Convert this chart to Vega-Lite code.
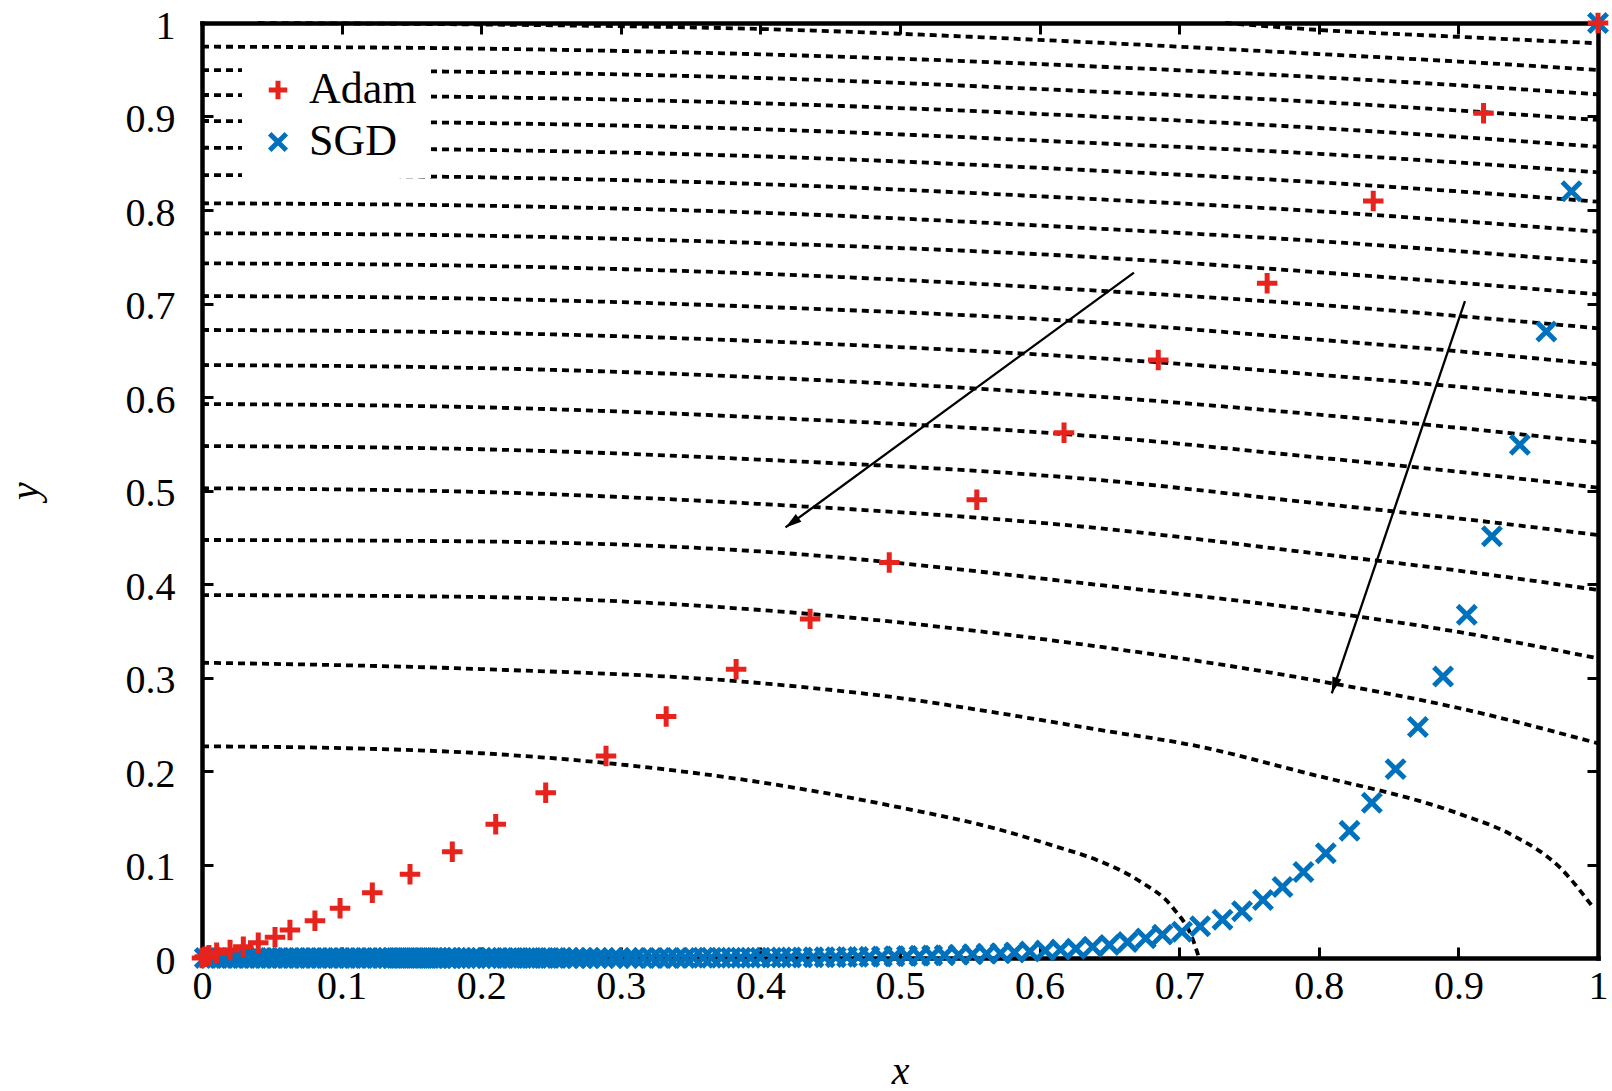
{
"$schema": "https://vega.github.io/schema/vega-lite/v6.json",
"width": 1396, "height": 935,
"autosize": {"type": "none"},
"padding": {"left": 202, "top": 23, "right": 14, "bottom": 133},
"background": "white",
"config": {
 "view": {"stroke": null},
 "axis": {"grid": false, "domainColor": "black", "domainWidth": 4.5, "domainCap": "square", "tickColor": "black", "tickWidth": 3, "tickSize": -11, "zindex": 1,
  "labelFont": "Liberation Serif", "labelFontSize": 40, "labelColor": "black", "labelFlush": false, "labelOverlap": false, "labelBound": false,
  "titleFont": "Liberation Serif", "titleFontSize": 40, "titleFontStyle": "italic", "titleFontWeight": "normal", "titleColor": "black"}
},
"datasets": {
 "curves": [
  {"c":"T0","x":0.04,"y":1.0},{"c":"T0","x":0.2,"y":0.9984},{"c":"T0","x":0.4,"y":0.9936},{"c":"T0","x":0.643,"y":0.9789},{"c":"T0","x":0.8,"y":0.9668},{"c":"T0","x":0.9,"y":0.9588},{"c":"T0","x":1,"y":0.9497},
  {"c":"T1","x":0.733,"y":1.0},{"c":"T1","x":0.801,"y":0.9925},{"c":"T1","x":0.899,"y":0.9853},{"c":"T1","x":1,"y":0.9783},
  {"c":"L1","x":0,"y":0.9747},{"c":"L1","x":0.2,"y":0.9726},{"c":"L1","x":0.4,"y":0.9665},{"c":"L1","x":0.643,"y":0.9533},{"c":"L1","x":0.8,"y":0.942},{"c":"L1","x":0.9,"y":0.9334},{"c":"L1","x":1,"y":0.9237},
  {"c":"L2","x":0,"y":0.9497},{"c":"L2","x":0.2,"y":0.9476},{"c":"L2","x":0.4,"y":0.9412},{"c":"L2","x":0.643,"y":0.9265},{"c":"L2","x":0.8,"y":0.9155},{"c":"L2","x":0.9,"y":0.9064},{"c":"L2","x":1,"y":0.8963},
  {"c":"L3","x":0,"y":0.923},{"c":"L3","x":0.2,"y":0.9207},{"c":"L3","x":0.4,"y":0.9141},{"c":"L3","x":0.643,"y":0.8998},{"c":"L3","x":0.8,"y":0.8877},{"c":"L3","x":0.9,"y":0.8782},{"c":"L3","x":1,"y":0.8677},
  {"c":"L4","x":0,"y":0.8952},{"c":"L4","x":0.2,"y":0.893},{"c":"L4","x":0.4,"y":0.8864},{"c":"L4","x":0.643,"y":0.8713},{"c":"L4","x":0.8,"y":0.8601},{"c":"L4","x":0.9,"y":0.8508},{"c":"L4","x":1,"y":0.8403},
  {"c":"L5","x":0,"y":0.8666},{"c":"L5","x":0.2,"y":0.8643},{"c":"L5","x":0.4,"y":0.8574},{"c":"L5","x":0.643,"y":0.842},{"c":"L5","x":0.8,"y":0.8296},{"c":"L5","x":0.9,"y":0.8199},{"c":"L5","x":1,"y":0.8089},
  {"c":"L6","x":0,"y":0.8374},{"c":"L6","x":0.2,"y":0.835},{"c":"L6","x":0.4,"y":0.8277},{"c":"L6","x":0.643,"y":0.8114},{"c":"L6","x":0.8,"y":0.7986},{"c":"L6","x":0.9,"y":0.7883},{"c":"L6","x":1,"y":0.7768},
  {"c":"L7","x":0,"y":0.8072},{"c":"L7","x":0.2,"y":0.8046},{"c":"L7","x":0.4,"y":0.7971},{"c":"L7","x":0.643,"y":0.78},{"c":"L7","x":0.8,"y":0.7667},{"c":"L7","x":0.9,"y":0.756},{"c":"L7","x":1,"y":0.7441},
  {"c":"L8","x":0,"y":0.7751},{"c":"L8","x":0.2,"y":0.7725},{"c":"L8","x":0.4,"y":0.7646},{"c":"L8","x":0.643,"y":0.7492},{"c":"L8","x":0.8,"y":0.7334},{"c":"L8","x":0.9,"y":0.7222},{"c":"L8","x":1,"y":0.7098},
  {"c":"L9","x":0,"y":0.743},{"c":"L9","x":0.2,"y":0.7402},{"c":"L9","x":0.4,"y":0.7319},{"c":"L9","x":0.643,"y":0.7136},{"c":"L9","x":0.8,"y":0.6985},{"c":"L9","x":0.9,"y":0.6866},{"c":"L9","x":1,"y":0.6735},
  {"c":"L10","x":0,"y":0.708},{"c":"L10","x":0.2,"y":0.7051},{"c":"L10","x":0.4,"y":0.6964},{"c":"L10","x":0.643,"y":0.6795},{"c":"L10","x":0.8,"y":0.6613},{"c":"L10","x":0.9,"y":0.6489},{"c":"L10","x":1,"y":0.635},
  {"c":"L11","x":0,"y":0.6717},{"c":"L11","x":0.2,"y":0.6687},{"c":"L11","x":0.4,"y":0.6597},{"c":"L11","x":0.643,"y":0.6414},{"c":"L11","x":0.8,"y":0.6237},{"c":"L11","x":0.9,"y":0.611},{"c":"L11","x":1,"y":0.5968},
  {"c":"L12","x":0,"y":0.6342},{"c":"L12","x":0.2,"y":0.6309},{"c":"L12","x":0.4,"y":0.621},{"c":"L12","x":0.643,"y":0.6003},{"c":"L12","x":0.8,"y":0.5811},{"c":"L12","x":0.9,"y":0.567},{"c":"L12","x":1,"y":0.5511},
  {"c":"L13","x":0,"y":0.5925},{"c":"L13","x":0.2,"y":0.589},{"c":"L13","x":0.4,"y":0.5782},{"c":"L13","x":0.643,"y":0.5575},{"c":"L13","x":0.8,"y":0.5352},{"c":"L13","x":0.9,"y":0.52},{"c":"L13","x":1,"y":0.503},
  {"c":"L14","x":0,"y":0.5476},{"c":"L14","x":0.2,"y":0.5441},{"c":"L14","x":0.4,"y":0.533},{"c":"L14","x":0.643,"y":0.5112},{"c":"L14","x":0.8,"y":0.4861},{"c":"L14","x":0.9,"y":0.4701},{"c":"L14","x":1,"y":0.4524},
  {"c":"L15","x":0,"y":0.5024},{"c":"L15","x":0.2,"y":0.4984},{"c":"L15","x":0.4,"y":0.4856},{"c":"L15","x":0.643,"y":0.4596},{"c":"L15","x":0.8,"y":0.4323},{"c":"L15","x":0.9,"y":0.4143},{"c":"L15","x":1,"y":0.3936},
  {"c":"L16","x":0,"y":0.4471},{"c":"L16","x":0.2,"y":0.4455},{"c":"L16","x":0.4,"y":0.4348},{"c":"L16","x":0.643,"y":0.3989},{"c":"L16","x":0.8,"y":0.3711},{"c":"L16","x":0.9,"y":0.3487},{"c":"L16","x":1,"y":0.3205},
  {"c":"L17","x":0,"y":0.3882},{"c":"L17","x":0.2,"y":0.3861},{"c":"L17","x":0.4,"y":0.3722},{"c":"L17","x":0.643,"y":0.3329},{"c":"L17","x":0.8,"y":0.2963},{"c":"L17","x":0.9,"y":0.2674},{"c":"L17","x":1,"y":0.2296},
  {"c":"L18","x":0,"y":0.3158},{"c":"L18","x":0.2,"y":0.309},{"c":"L18","x":0.4,"y":0.294},{"c":"L18","x":0.5,"y":0.278},{"c":"L18","x":0.5716,"y":0.2617},{"c":"L18","x":0.643,"y":0.2439},{"c":"L18","x":0.715,"y":0.226},{"c":"L18","x":0.787,"y":0.1993},{"c":"L18","x":0.901,"y":0.154},{"c":"L18","x":0.937,"y":0.1326},{"c":"L18","x":0.973,"y":0.0963},{"c":"L18","x":0.997,"y":0.0531},
  {"c":"L19","x":0,"y":0.2264},{"c":"L19","x":0.1,"y":0.2245},{"c":"L19","x":0.2,"y":0.219},{"c":"L19","x":0.3,"y":0.207},{"c":"L19","x":0.4,"y":0.188},{"c":"L19","x":0.5,"y":0.161},{"c":"L19","x":0.5716,"y":0.1372},{"c":"L19","x":0.6074,"y":0.1212},{"c":"L19","x":0.6433,"y":0.1034},{"c":"L19","x":0.6719,"y":0.082},{"c":"L19","x":0.6956,"y":0.0535},{"c":"L19","x":0.7099,"y":0.0193},{"c":"L19","x":0.7142,"y":0}
 ],
 "arrows": [
  {"a":"A","pt":"tail","x":0.6676,"y":0.733},{"a":"A","pt":"tip","x":0.418,"y":0.4605},
  {"a":"B","pt":"tail","x":0.9047,"y":0.7025},{"a":"B","pt":"tip","x":0.8093,"y":0.2831}
 ],
 "pts": [
  {"m":"SGD","x":1,"y":1},{"m":"SGD","x":0.981,"y":0.82},{"m":"SGD","x":0.963,"y":0.67},{"m":"SGD","x":0.944,"y":0.549},{"m":"SGD","x":0.924,"y":0.451},{"m":"SGD","x":0.906,"y":0.367},{"m":"SGD","x":0.889,"y":0.301},{"m":"SGD","x":0.871,"y":0.247},{"m":"SGD","x":0.855,"y":0.202},{"m":"SGD","x":0.838,"y":0.166},{"m":"SGD","x":0.822,"y":0.136},{"m":"SGD","x":0.805,"y":0.112},{"m":"SGD","x":0.789,"y":0.092},{"m":"SGD","x":0.774,"y":0.076},{"m":"SGD","x":0.76,"y":0.062},{"m":"SGD","x":0.745,"y":0.05},{"m":"SGD","x":0.731,"y":0.041},{"m":"SGD","x":0.715,"y":0.034},{"m":"SGD","x":0.702,"y":0.028},{"m":"SGD","x":0.688,"y":0.025},{"m":"SGD","x":0.676,"y":0.021},{"m":"SGD","x":0.663,"y":0.017},{"m":"SGD","x":0.65,"y":0.014},{"m":"SGD","x":0.638,"y":0.012},{"m":"SGD","x":0.626,"y":0.01},{"m":"SGD","x":0.615,"y":0.009},{"m":"SGD","x":0.604,"y":0.008},{"m":"SGD","x":0.593,"y":0.007},{"m":"SGD","x":0.582,"y":0.006},{"m":"SGD","x":0.572,"y":0.005},{"m":"SGD","x":0.562,"y":0.0045},{"m":"SGD","x":0.552,"y":0.004},{"m":"SGD","x":0.542,"y":0.0035},{"m":"SGD","x":0.532,"y":0.003},{"m":"SGD","x":0.523,"y":0.0027},{"m":"SGD","x":0.514,"y":0.0024},{"m":"SGD","x":0.505,"y":0.0021},{"m":"SGD","x":0.496,"y":0.0018},{"m":"SGD","x":0.487,"y":0.0016},{"m":"SGD","x":0.478,"y":0.0014},{"m":"SGD","x":0.47,"y":0.0012},{"m":"SGD","x":0.462,"y":0.001},{"m":"SGD","x":0.454,"y":0.0009},{"m":"SGD","x":0.446,"y":0.0008},{"m":"SGD","x":0.438,"y":0.0007},{"m":"SGD","x":0.43,"y":0.0006},{"m":"SGD","x":0.422,"y":0.0005},{"m":"SGD","x":0.415,"y":0.0005},{"m":"SGD","x":0.408,"y":0.0004},{"m":"SGD","x":0.4,"y":0.0004},
  {"m":"SGD","x":0.393,"y":0.0003},{"m":"SGD","x":0.386,"y":0.0003},{"m":"SGD","x":0.379,"y":0.0003},{"m":"SGD","x":0.372,"y":0.0002},{"m":"SGD","x":0.365,"y":0.0002},{"m":"SGD","x":0.359,"y":0.0002},{"m":"SGD","x":0.352,"y":0.0002},{"m":"SGD","x":0.346,"y":0.0001},{"m":"SGD","x":0.34,"y":0.0001},{"m":"SGD","x":0.334,"y":0.0001},{"m":"SGD","x":0.328,"y":0.0001},{"m":"SGD","x":0.322,"y":0.0001},{"m":"SGD","x":0.316,"y":0},{"m":"SGD","x":0.31,"y":0},{"m":"SGD","x":0.305,"y":0},{"m":"SGD","x":0.299,"y":0},{"m":"SGD","x":0.294,"y":0},{"m":"SGD","x":0.288,"y":0},{"m":"SGD","x":0.283,"y":0},{"m":"SGD","x":0.278,"y":0},{"m":"SGD","x":0.273,"y":0},{"m":"SGD","x":0.268,"y":0},{"m":"SGD","x":0.263,"y":0},{"m":"SGD","x":0.258,"y":0},{"m":"SGD","x":0.254,"y":0},{"m":"SGD","x":0.249,"y":0},{"m":"SGD","x":0.245,"y":0},{"m":"SGD","x":0.24,"y":0},{"m":"SGD","x":0.236,"y":0},{"m":"SGD","x":0.232,"y":0},{"m":"SGD","x":0.227,"y":0},{"m":"SGD","x":0.223,"y":0},{"m":"SGD","x":0.219,"y":0},{"m":"SGD","x":0.215,"y":0},{"m":"SGD","x":0.211,"y":0},{"m":"SGD","x":0.207,"y":0},{"m":"SGD","x":0.204,"y":0},{"m":"SGD","x":0.2,"y":0},{"m":"SGD","x":0.196,"y":0},{"m":"SGD","x":0.193,"y":0},{"m":"SGD","x":0.189,"y":0},{"m":"SGD","x":0.186,"y":0},{"m":"SGD","x":0.182,"y":0},{"m":"SGD","x":0.179,"y":0},{"m":"SGD","x":0.176,"y":0},{"m":"SGD","x":0.172,"y":0},{"m":"SGD","x":0.169,"y":0},{"m":"SGD","x":0.166,"y":0},{"m":"SGD","x":0.163,"y":0},{"m":"SGD","x":0.16,"y":0},{"m":"SGD","x":0.157,"y":0},{"m":"SGD","x":0.154,"y":0},{"m":"SGD","x":0.151,"y":0},{"m":"SGD","x":0.148,"y":0},{"m":"SGD","x":0.145,"y":0},{"m":"SGD","x":0.142,"y":0},{"m":"SGD","x":0.139,"y":0},{"m":"SGD","x":0.136,"y":0},{"m":"SGD","x":0.133,"y":0},{"m":"SGD","x":0.13,"y":0},{"m":"SGD","x":0.126,"y":0},{"m":"SGD","x":0.122,"y":0},{"m":"SGD","x":0.118,"y":0},{"m":"SGD","x":0.114,"y":0},{"m":"SGD","x":0.11,"y":0},{"m":"SGD","x":0.106,"y":0},{"m":"SGD","x":0.102,"y":0},{"m":"SGD","x":0.098,"y":0},{"m":"SGD","x":0.094,"y":0},{"m":"SGD","x":0.09,"y":0},{"m":"SGD","x":0.086,"y":0},{"m":"SGD","x":0.082,"y":0},{"m":"SGD","x":0.078,"y":0},{"m":"SGD","x":0.074,"y":0},{"m":"SGD","x":0.07,"y":0},{"m":"SGD","x":0.066,"y":0},{"m":"SGD","x":0.062,"y":0},{"m":"SGD","x":0.058,"y":0},{"m":"SGD","x":0.054,"y":0},{"m":"SGD","x":0.05,"y":0},{"m":"SGD","x":0.046,"y":0},{"m":"SGD","x":0.042,"y":0},{"m":"SGD","x":0.038,"y":0},{"m":"SGD","x":0.034,"y":0},{"m":"SGD","x":0.03,"y":0},{"m":"SGD","x":0.026,"y":0},{"m":"SGD","x":0.022,"y":0},{"m":"SGD","x":0.018,"y":0},{"m":"SGD","x":0.014,"y":0},{"m":"SGD","x":0.01,"y":0},{"m":"SGD","x":0.006,"y":0},{"m":"SGD","x":0.002,"y":0},
  {"m":"Adam","x":0,"y":0},{"m":"Adam","x":0.002,"y":0.0014},{"m":"Adam","x":0.005,"y":0.003},{"m":"Adam","x":0.0105,"y":0.0056},{"m":"Adam","x":0.0201,"y":0.0086},{"m":"Adam","x":0.0296,"y":0.0121},{"m":"Adam","x":0.0403,"y":0.0164},{"m":"Adam","x":0.0523,"y":0.0221},{"m":"Adam","x":0.063,"y":0.0299},{"m":"Adam","x":0.0809,"y":0.0399},{"m":"Adam","x":0.0989,"y":0.0531},{"m":"Adam","x":0.122,"y":0.0698},{"m":"Adam","x":0.149,"y":0.0895},{"m":"Adam","x":0.1793,"y":0.1137},{"m":"Adam","x":0.2104,"y":0.143},{"m":"Adam","x":0.2462,"y":0.1768},{"m":"Adam","x":0.2894,"y":0.216},{"m":"Adam","x":0.3325,"y":0.2582},{"m":"Adam","x":0.3826,"y":0.3088},{"m":"Adam","x":0.4356,"y":0.3627},{"m":"Adam","x":0.4923,"y":0.4231},{"m":"Adam","x":0.555,"y":0.4902},{"m":"Adam","x":0.6175,"y":0.5617},{"m":"Adam","x":0.685,"y":0.6396},{"m":"Adam","x":0.763,"y":0.7216},{"m":"Adam","x":0.839,"y":0.8096},{"m":"Adam","x":0.918,"y":0.9034},{"m":"Adam","x":1,"y":1}
 ]
},
"resolve": {"axis": {"x": "independent", "y": "independent"}},
"layer": [
 {
  "data": {"name": "curves"},
  "mark": {"type": "line", "color": "black", "strokeWidth": 3.8, "strokeDash": [7, 5], "interpolate": "monotone"},
  "encoding": {
   "x": {"field": "x", "type": "quantitative", "scale": {"domain": [0, 1], "nice": false},
         "axis": {"orient": "top", "values": [0,0.1,0.2,0.3,0.4,0.5,0.6,0.7,0.8,0.9,1], "labels": false, "title": null}},
   "y": {"field": "y", "type": "quantitative", "scale": {"domain": [0, 1], "nice": false},
         "axis": {"orient": "right", "values": [0,0.1,0.2,0.3,0.4,0.5,0.6,0.7,0.8,0.9,1], "labels": false, "title": null}},
   "detail": {"field": "c", "type": "nominal"}
  }
 },
 {
  "data": {"name": "arrows"},
  "mark": {"type": "line", "color": "black", "strokeWidth": 2.3},
  "encoding": {
   "x": {"field": "x", "type": "quantitative", "axis": null},
   "y": {"field": "y", "type": "quantitative", "axis": null},
   "detail": {"field": "a", "type": "nominal"}
  }
 },
 {
  "data": {"name": "arrows"},
  "transform": [{"filter": "datum.a == 'A' && datum.pt == 'tip'"}],
  "mark": {"type": "point", "shape": "M0,0L-0.5,1.7L0.5,1.7Z", "filled": true, "color": "black", "size": 361, "opacity": 1},
  "encoding": {
   "x": {"field": "x", "type": "quantitative", "axis": null},
   "y": {"field": "y", "type": "quantitative", "axis": null},
   "angle": {"value": 233.9}
  }
 },
 {
  "data": {"name": "arrows"},
  "transform": [{"filter": "datum.a == 'B' && datum.pt == 'tip'"}],
  "mark": {"type": "point", "shape": "M0,0L-0.5,1.7L0.5,1.7Z", "filled": true, "color": "black", "size": 361, "opacity": 1},
  "encoding": {
   "x": {"field": "x", "type": "quantitative", "axis": null},
   "y": {"field": "y", "type": "quantitative", "axis": null},
   "angle": {"value": 198.7}
  }
 },
 {
  "data": {"name": "pts"},
  "mark": {"type": "point", "filled": false, "strokeWidth": 5, "size": 420, "opacity": 1},
  "encoding": {
   "x": {"field": "x", "type": "quantitative",
         "axis": {"orient": "bottom", "values": [0,0.1,0.2,0.3,0.4,0.5,0.6,0.7,0.8,0.9,1], "format": "~g", "title": "x", "labelPadding": 19, "titlePadding": 45}},
   "y": {"field": "y", "type": "quantitative",
         "axis": {"orient": "left", "values": [0,0.1,0.2,0.3,0.4,0.5,0.6,0.7,0.8,0.9,1], "format": "~g", "title": "y", "labelPadding": 38, "labelOffset": 3, "titlePadding": 80}},
   "color": {"field": "m", "type": "nominal", "scale": {"domain": ["Adam", "SGD"], "range": ["#e6231c", "#0072bd"]},
     "legend": {"orient": "none", "legendX": 40, "legendY": 31, "title": null, "fillColor": "white", "padding": 14, "labelFont": "Liberation Serif", "labelFontSize": 44, "labelColor": "black", "symbolStrokeWidth": 5, "symbolSize": 340, "rowPadding": 8, "labelOffset": 9}},
   "shape": {"field": "m", "type": "nominal", "scale": {"domain": ["Adam", "SGD"], "range": ["M-1,0L1,0M0,-1L0,1", "M-0.9,-0.9L0.9,0.9M-0.9,0.9L0.9,-0.9"]},
     "legend": {"orient": "none", "legendX": 40, "legendY": 31, "title": null, "fillColor": "white", "padding": 14, "labelFont": "Liberation Serif", "labelFontSize": 44, "labelColor": "black", "symbolStrokeWidth": 5, "symbolSize": 340, "rowPadding": 8, "labelOffset": 9}}
  }
 }
]
}
